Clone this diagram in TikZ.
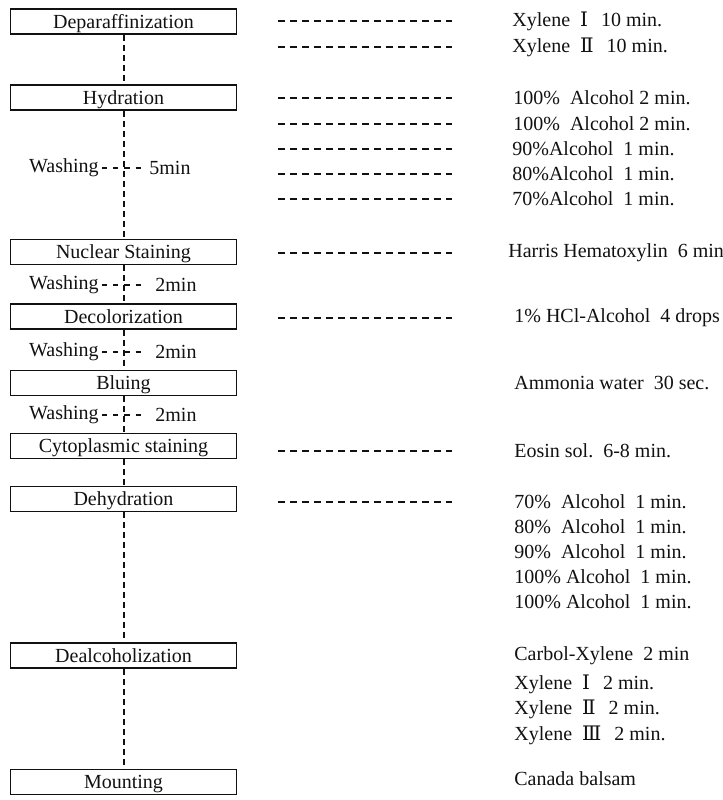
\documentclass[tikz,border=0pt]{standalone}
\usepackage{fontspec}
\setmainfont{Liberation Serif}
\newfontfamily\numeralfont{DejaVu Serif}
\newcommand{\rnum}[1]{{\numeralfont\fontsize{10pt}{12pt}\selectfont #1}\hspace{6.5pt}}
\usetikzlibrary{positioning}
\definecolor{protink}{HTML}{111111}
\tikzset{
  every picture/.style={font=\fontsize{10pt}{12pt}\selectfont,text=protink},
  stage/.style={draw=protink,line width=0.6pt,minimum width=113pt,
    minimum height=12.5pt,inner sep=0pt,text height=7.5pt,text depth=1pt},
  flow/.style={draw=protink,line width=1pt,dash pattern=on 3pt off 2pt},
  leader/.style={draw=protink,line width=0.9pt,dash pattern=on 3.3pt off 2.7pt},
  washtick/.style={draw=protink,line width=0.8pt,dash pattern=on 2.6pt off 3pt},
  reagent/.style={anchor=west,inner sep=0pt},
  washlabel/.style={inner sep=1.5pt},
}

\begin{document}
\begin{tikzpicture}[x=0.5pt,y=-0.5pt]
  % Staining steps on the left, reagents and times on the right.
  \path[use as bounding box] (0,0) rectangle (723,800);
  \node[stage] (dep) at (123.5,21.5) {Deparaffinization};
  \node[stage] (hyd) at (123.5,97.5) {Hydration};
  \node[stage] (nuc) at (123.5,252) {Nuclear Staining};
  \node[stage] (dec) at (123.5,316.5) {Decolorization};
  \node[stage] (blu) at (123.5,383) {Bluing};
  \node[stage] (cyt) at (123.5,446) {Cytoplasmic staining};
  \node[stage] (deh) at (123.5,499) {Dehydration};
  \node[stage] (dea) at (123.5,655.5) {Dealcoholization};
  \node[stage] (mou) at (123.5,782) {Mounting};
  \foreach \a/\b in {dep/hyd,hyd/nuc,nuc/dec,dec/blu,blu/cyt,cyt/deh,deh/dea,dea/mou}
    \draw[flow] (\a) -- (\b);
  % washing marks cross the flow line
  \foreach \y/\t/\x [count=\i] in {168/5min/146,285/2min/152,352/2min/152,415/2min/152} {
    \node[washlabel,anchor=east] (wash\i) at (102,\y) {Washing};
    \node[washlabel,anchor=west] (time\i) at (\x,\y) {\t};
    \draw[washtick,shorten >={(\x-146)*0.5pt+1pt}] (wash\i) -- (time\i);
  }
  \foreach \y/\x/\txt [count=\i] in {
      21/512/{Xylene~~\rnum{Ⅰ}10 min.},
      47/512/{Xylene~~\rnum{Ⅱ}10 min.},
      98/513/{100\%~~Alcohol 2 min.},
      124/513/{100\%~~Alcohol 2 min.},
      149/512/{90\%Alcohol~~1 min.},
      174/512/{80\%Alcohol~~1 min.},
      199/512/{70\%Alcohol~~1 min.},
      253/508/{Harris Hematoxylin~~6 min},
      318/514/{1\% HCl-Alcohol~~4 drops},
      383/514/{Ammonia water~~30 sec.},
      451/514/{Eosin sol.~~6-8 min.},
      502/514/{70\%~~Alcohol~~1 min.},
      527/514/{80\%~~Alcohol~~1 min.},
      552/514/{90\%~~Alcohol~~1 min.},
      577/514/{100\% Alcohol~~1 min.},
      602/514/{100\% Alcohol~~1 min.},
      656/514/{Carbol-Xylene~~2 min},
      684/514/{Xylene~~\rnum{Ⅰ}2 min.},
      709/514/{Xylene~~\rnum{Ⅱ}2 min.},
      735/514/{Xylene~~\rnum{Ⅲ}2 min.},
      779/514/{Canada balsam}}
    \node[reagent] (rgt\i) at (\x,\y) {\txt};
  % dashed leaders only where a reagent is applied by immersion
  \foreach \y [count=\i] in {21,47,98,124,149,174,199,253,318,451,502} {
    \coordinate (ldA\i) at (278,\y);
    \coordinate (ldB\i) at (452,\y);
    \draw[leader] (ldA\i) -- (ldB\i);
  }
\end{tikzpicture}
\end{document}
